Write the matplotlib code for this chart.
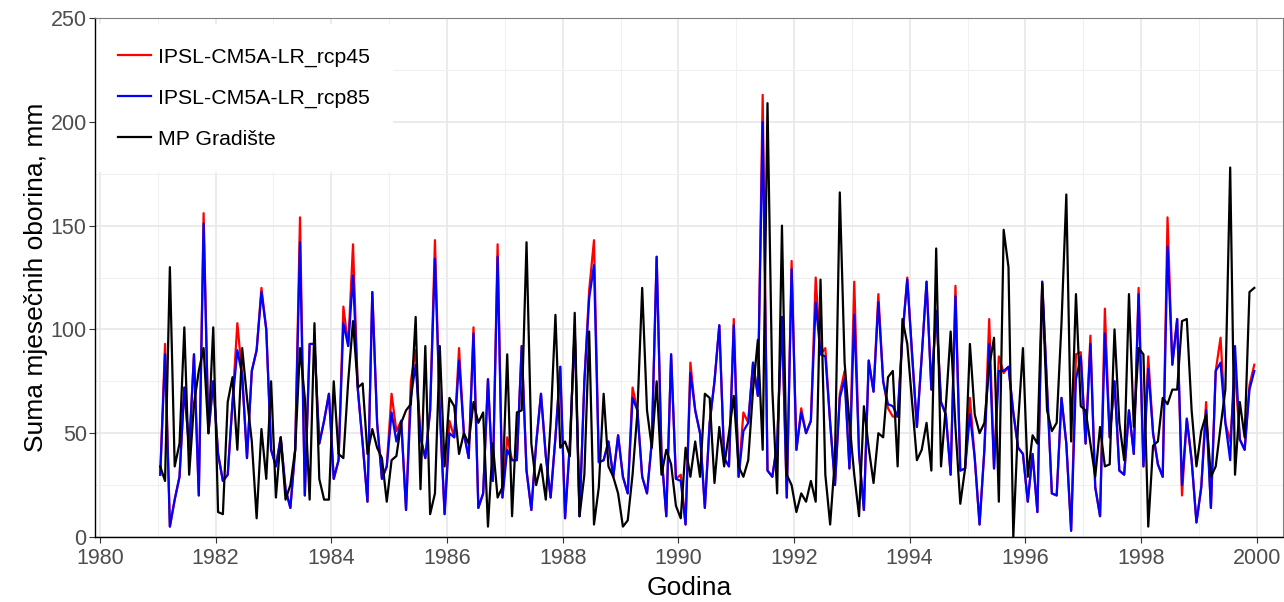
import numpy as np
import matplotlib
matplotlib.use("Agg")
import matplotlib.pyplot as plt
from matplotlib.ticker import MultipleLocator

plt.rcParams['font.family'] = ['Liberation Sans', 'DejaVu Sans']

# monthly precipitation sums, Jan 1981 - Dec 1999
rcp45 = [30, 93, 5, 18, 29, 72, 42, 88, 20, 156, 50, 75,
         40, 27, 30, 65, 103, 78, 38, 80, 90, 120, 100, 42,
         34, 48, 23, 14, 42, 154, 20, 93, 93, 45, 56, 69,
         28, 37, 111, 92, 141, 71, 45, 17, 118, 55, 28, 34,
         69, 51, 56, 13, 75, 90, 48, 38, 61, 143, 61, 11,
         56, 48, 91, 50, 38, 101, 14, 21, 76, 27, 141, 19,
         48, 37, 37, 92, 32, 13, 45, 69, 39, 19, 48, 82,
         9, 45, 100, 10, 75, 119, 143, 36, 37, 46, 29, 49,
         29, 21, 72, 61, 29, 21, 46, 135, 40, 10, 88, 28,
         30, 6, 84, 61, 50, 14, 55, 75, 102, 38, 34, 105,
         29, 60, 55, 84, 68, 213, 32, 29, 45, 106, 19, 133,
         42, 62, 50, 56, 125, 88, 91, 55, 25, 69, 80, 33,
         123, 40, 13, 85, 70, 117, 75, 62, 58, 58, 97, 125,
         88, 53, 87, 123, 71, 109, 65, 59, 30, 121, 32, 33,
         67, 38, 6, 42, 105, 33, 87, 79, 82, 60, 43, 40,
         17, 40, 12, 123, 72, 21, 20, 67, 45, 3, 88, 89,
         45, 97, 24, 10, 110, 48, 75, 32, 30, 61, 40, 120,
         34, 87, 50, 35, 29, 154, 83, 105, 20, 57, 37, 7,
         24, 65, 14, 80, 96, 55, 46, 80, 47, 42, 73, 83]

rcp85 = list(rcp45)
rcp85_diff = {1: 88, 9: 151, 16: 90, 21: 118, 29: 142, 38: 103, 40: 126,
              48: 60, 49: 46, 52: 67, 53: 83, 57: 134, 60: 50, 62: 85,
              65: 98, 70: 135, 72: 42, 89: 115, 90: 131, 98: 67, 108: 27,
              110: 79, 119: 102, 121: 51, 125: 200, 131: 129, 133: 60,
              136: 113, 138: 87, 141: 67, 142: 76, 144: 107, 149: 113,
              151: 64, 152: 63, 155: 124, 165: 116, 168: 59, 172: 93,
              174: 80, 175: 80, 190: 76, 191: 87, 193: 93, 196: 98,
              203: 117, 205: 81, 209: 140, 212: 25, 217: 61, 220: 84,
              222: 37, 223: 92, 226: 71, 227: 80}
for k, v in rcp85_diff.items():
    rcp85[k] = v

gradiste = [34, 27, 130, 34, 45, 101, 30, 64, 80, 91, 50, 101,
            12, 11, 65, 77, 42, 91, 67, 46, 9, 52, 28, 75,
            19, 48, 18, 25, 42, 91, 67, 18, 103, 28, 18, 18,
            75, 40, 38, 75, 104, 72, 74, 40, 52, 43, 38, 17,
            37, 39, 55, 61, 64, 106, 23, 92, 11, 21, 92, 34,
            67, 63, 40, 50, 45, 65, 55, 60, 5, 45, 19, 24,
            88, 10, 60, 61, 142, 45, 25, 35, 18, 55, 107, 43,
            46, 39, 108, 10, 30, 99, 6, 24, 69, 34, 29, 21,
            5, 8, 30, 60, 120, 61, 43, 75, 30, 42, 35, 15,
            9, 43, 29, 46, 29, 69, 67, 26, 53, 34, 50, 68,
            34, 29, 37, 71, 95, 42, 209, 71, 21, 150, 30, 25,
            12, 21, 17, 27, 17, 124, 30, 6, 38, 166, 84, 55,
            30, 10, 63, 43, 26, 50, 48, 77, 80, 34, 105, 93,
            65, 37, 42, 55, 32, 139, 34, 63, 99, 53, 16, 33,
            93, 59, 50, 55, 82, 96, 17, 148, 130, 0, 55, 91,
            29, 49, 45, 122, 61, 51, 55, 103, 165, 46, 117, 63,
            61, 45, 29, 53, 34, 35, 100, 55, 37, 117, 53, 91,
            88, 5, 44, 46, 67, 64, 71, 71, 104, 105, 61, 34,
            51, 59, 29, 34, 53, 71, 178, 30, 65, 48, 118, 120]

years = 1981 + (np.arange(len(rcp45)) + 0.5) / 12

fig = plt.figure(figsize=(12.84, 6.02), dpi=100)
ax = fig.add_axes([0.074, 0.108, 0.925, 0.862])

ax.plot(years, rcp45, color='#FF0000', lw=1.6, label='IPSL-CM5A-LR_rcp45', zorder=3)
ax.plot(years, rcp85, color='#0000FF', lw=1.6, label='IPSL-CM5A-LR_rcp85', zorder=4)
ax.plot(years, gradiste, color='black', lw=1.6, label='MP Gradište', zorder=5)

ax.set_xlim(1979.914, 2000.45)
ax.set_ylim(0, 250)
ax.xaxis.set_major_locator(MultipleLocator(2))
ax.xaxis.set_minor_locator(MultipleLocator(1))
ax.yaxis.set_major_locator(MultipleLocator(50))
ax.yaxis.set_minor_locator(MultipleLocator(25))
ax.grid(which='major', color='#E6E6E6', lw=1.1)
ax.grid(which='minor', color='#F0F0F0', lw=0.8)
ax.set_axisbelow(True)

for s in ['top', 'right']:
    ax.spines[s].set_color('#7F7F7F')
    ax.spines[s].set_linewidth(0.8)
for s in ['left', 'bottom']:
    ax.spines[s].set_color('black')
    ax.spines[s].set_linewidth(1.0)
for sp in ax.spines.values():
    sp.set_zorder(12)

ax.tick_params(which='major', labelsize=15.5, labelcolor='#4D4D4D', color='#333333',
               length=4, pad=2)
ax.tick_params(axis='x', which='major', pad=4)
ax.tick_params(which='minor', length=0)
ax.set_xlabel('Godina', fontsize=19, labelpad=5)
ax.set_ylabel('Suma mjesečnih oborina, mm', fontsize=19, labelpad=2)

leg = ax.legend(loc='upper left', bbox_to_anchor=(-0.0055, 1.0), frameon=True, fontsize=15.3,
                handlelength=1.55, handletextpad=0.3, labelspacing=1.02,
                borderpad=1.1, borderaxespad=0.3)
leg.get_frame().set_facecolor('white')
leg.get_frame().set_edgecolor('none')
leg.get_frame().set_alpha(1.0)
leg.get_frame().set_boxstyle('square', pad=0)
leg.set_zorder(10)

fig.savefig('out.png', dpi=100)
